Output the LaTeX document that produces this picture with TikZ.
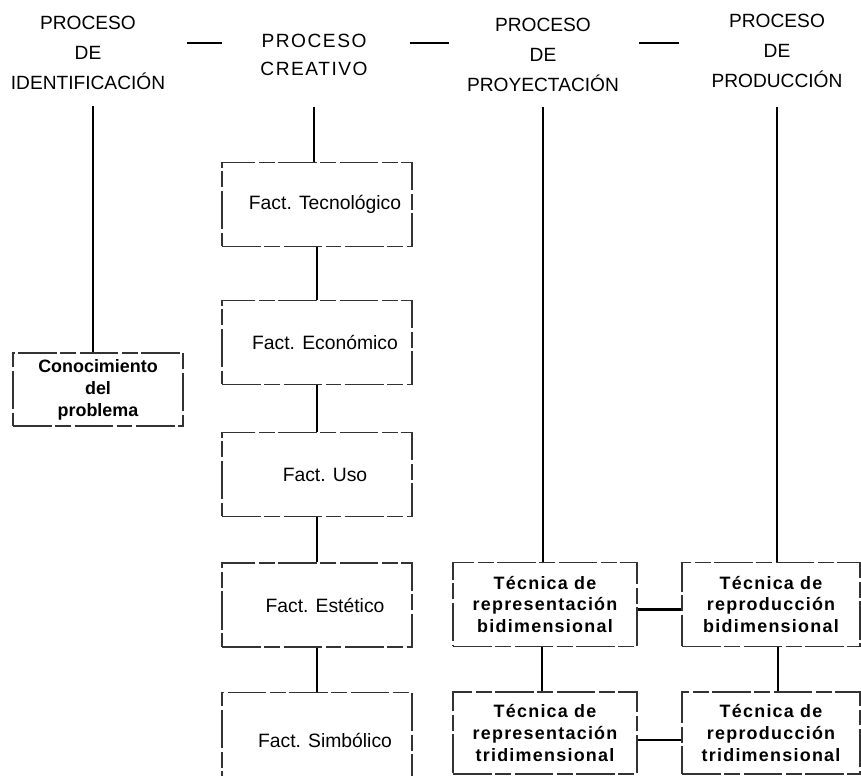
\documentclass[tikz,border=0pt]{standalone}
\usepackage{fontspec}
\setmainfont{Liberation Sans}
\newfontfamily\spacedfont[LetterSpace=8]{Liberation Sans}
\newfontfamily\bfspaced[LetterSpace=7]{Liberation Sans}
\tikzset{
  proceso/.style={align=center, inner sep=0pt, font=\fontsize{10.9pt}{17pt}\selectfont},
  caja/.style={draw=black!80, line width=0.7pt, dash pattern=on 22pt off 2pt on 9pt off 2pt, inner sep=0pt},
  factor/.style={caja, minimum width=3.8cm, minimum height=1.68cm,
    font=\fontsize{11pt}{13pt}\selectfont, execute at begin node={\hspace*{0.32cm}}},
  tecnica/.style={caja, minimum width=3.68cm, minimum height=1.68cm, align=center,
    font=\bfspaced\bfseries\fontsize{10.2pt}{12.5pt}\selectfont},
  enlace/.style={line width=1.6pt},
  guion/.style={line width=1.2pt}
}
\begin{document}
\begin{tikzpicture}[x=0.02cm, y=-0.02cm]
  \useasboundingbox (0,0) rectangle (861,776);
  \clip (0,0) rectangle (861,776);
  % cabeceras
  \node[proceso] (identif) at (88,53) {PROCESO\\DE\\IDENTIFICACIÓN};
  \node[proceso, font=\spacedfont\fontsize{10.9pt}{16.4pt}\selectfont] (creativo) at (314,55) {PROCESO\\CREATIVO};
  \node[proceso] (proyect) at (543,55) {PROCESO\\DE\\PROYECTACIÓN};
  \node[proceso] (produc) at (777,51) {PROCESO\\DE\\PRODUCCIÓN};
  \draw[guion] (identif.east) ++(22,-10) -- ++(35,0);
  \draw[guion] (creativo.east) ++(42,-12) -- ++(39,0);
  \draw[guion] (proyect.east) ++(20,-12) -- ++(40,0);
  % columna 1
  \node[caja, minimum width=3.4cm, minimum height=1.46cm, align=center,
    font=\bfseries\fontsize{10.2pt}{12.5pt}\selectfont] (conoc) at (98,389.5) {Conocimiento\\del\\problema};
  % columna 2
  \node[factor] (tecno) at (317,204.5) {Fact. Tecnológico};
  \node[factor] (econo) at (317,342.5) {Fact. Económico};
  \node[factor] (uso) at (317,474.5) {Fact. Uso};
  \node[factor] (estet) at (317,605) {Fact. Estético};
  \node[factor, minimum height=1.9cm] (simbol) at (317,740) {Fact. Simbólico};
  % columnas 3 y 4
  \node[tecnica] (repBi) at (545,604.5) {Técnica de\\representación\\bidimensional};
  \node[tecnica, minimum width=3.56cm] (reproBi) at (771,604.5) {Técnica de\\reproducción\\bidimensional};
  \node[tecnica, minimum height=1.64cm] (repTri) at (545,733) {Técnica de\\representación\\tridimensional};
  \node[tecnica, minimum width=3.56cm, minimum height=1.64cm] (reproTri) at (771,733) {Técnica de\\reproducción\\tridimensional};
  % enlaces
  \draw[enlace, shorten >=0.32cm] ([xshift=-0.1cm]conoc.north) -- ([xshift=-0.1cm]conoc.north |- identif.south);
  \draw[enlace, shorten <=0.6cm] (creativo.south) -- (creativo.south |- tecno.north);
  \draw[enlace] (tecno) -- (econo);
  \draw[enlace] (econo) -- (uso);
  \draw[enlace] (uso) -- (estet);
  \draw[enlace] (estet) -- (simbol);
  \draw[enlace, shorten <=0.3cm] (proyect.south) -- (proyect.south |- repBi.north);
  \draw[enlace, shorten <=0.38cm] (produc.south) -- (produc.south |- reproBi.north);
  \draw[enlace] ([yshift=-0.1cm]repBi.east) -- ([yshift=-0.1cm]reproBi.west);
  \draw[enlace] ([yshift=-0.14cm]repTri.east) -- ([yshift=-0.14cm]reproTri.west);
  \draw[enlace] ([xshift=-0.06cm]repBi.south) -- ([xshift=-0.06cm]repTri.north);
  \draw[enlace] ([xshift=0.14cm]reproBi.south) -- ([xshift=0.14cm]reproTri.north);
\end{tikzpicture}
\end{document}
